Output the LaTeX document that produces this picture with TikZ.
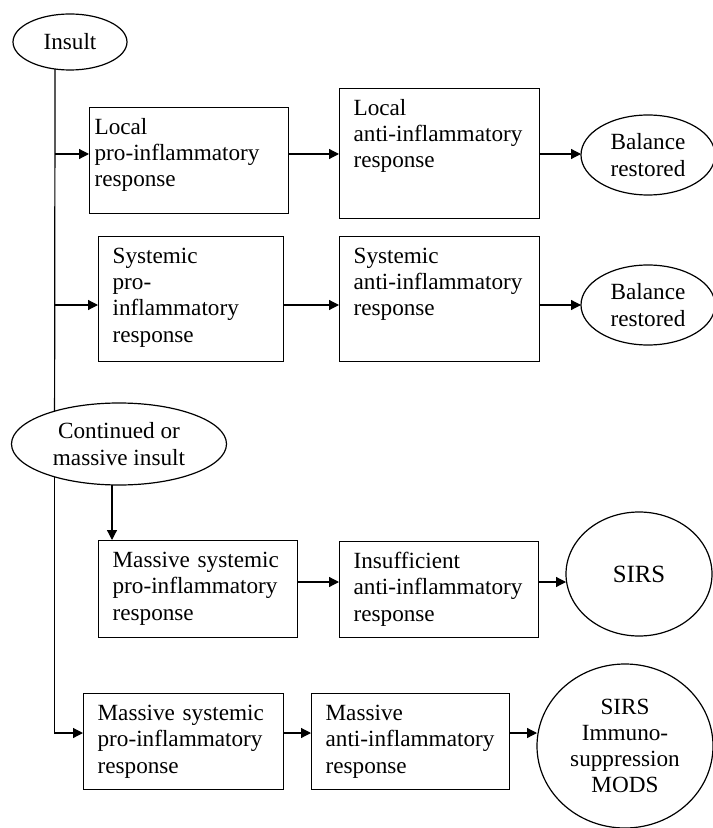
\documentclass[tikz,border=0pt]{standalone}
\usepackage{fontspec}
\setmainfont{Liberation Serif}
\usetikzlibrary{shapes.geometric,arrows.meta}
\newcommand{\diagfont}{\fontsize{11.6}{13.1}\selectfont}

\begin{document}
\begin{tikzpicture}[
    x=0.5pt, y=-0.5pt,
    font=\diagfont,
    line width=0.6pt,
    resp/.style={draw, anchor=north west, align=left, inner xsep=7pt, inner ysep=5.5pt, text height=8pt},
    event/.style={draw, ellipse, align=center, inner sep=0pt, outer sep=0pt},
    arrow/.style={-{Triangle[length=5pt, width=5pt]}}
]
\useasboundingbox (0,0) rectangle (712,828);

% Trunk and arrow rows
\coordinate (trunk) at (55,0);
\coordinate (r1) at (0,154);
\coordinate (r2) at (0,305);
\coordinate (r3) at (0,582);
\coordinate (r4) at (0,733);

% Insult
\node[event, minimum width=57pt, minimum height=28pt] (ins) at (70,42) {Insult};

% Local response
\node[resp, text width=94.5pt, inner xsep=2.5pt, text depth=34pt] (lpro) at (89,107) {Local\\pro-inflammatory\\response};
\node[resp, text width=86pt, text depth=46pt] (lanti) at (339,88) {Local\\anti-inflammatory\\response};
\node[event, minimum width=67pt, minimum height=40pt] (bal1) at (648,155) {Balance\\restored};

% Systemic response
\node[resp, text width=78.5pt, text depth=43.5pt] (spro) at (98,236) {Systemic\\pro-\\inflammatory\\response};
\node[resp, text width=86pt, text depth=43.5pt] (santi) at (339,236) {Systemic\\anti-inflammatory\\response};
\node[event, minimum width=67pt, minimum height=40pt] (bal2) at (648,305) {Balance\\restored};

% Continued insult
\node[event, minimum width=107.5pt, minimum height=41pt] (cont) at (119,444) {Continued or\\massive insult};

% SIRS
\node[resp, text width=85.5pt, text depth=29.5pt] (mpro1) at (98,540) {Massive systemic\\pro-inflammatory\\response};
\node[resp, text width=85.5pt, text depth=29pt] (insuf) at (339,541) {Insufficient\\anti-inflammatory\\response};
\node[event, minimum width=73pt, minimum height=62pt, font=\fontsize{12.4}{14}\selectfont] (sirs) at (639,574) {SIRS};

% MODS
\node[resp, text width=86pt, text depth=29pt] (mpro2) at (83,693) {Massive systemic\\pro-inflammatory\\response};
\node[resp, text width=85pt, text depth=29pt] (manti) at (311,693) {Massive\\anti-inflammatory\\response};
\node[event, minimum width=88pt, minimum height=82pt] (mods) at (625,746) {SIRS\\Immuno-\\suppression\\MODS};

% Arrows
\draw (ins.241) -- (cont.153);
\draw[arrow] (trunk |- r1) -- (lpro.west |- r1);
\draw[arrow] (lpro.east |- r1) -- (lanti.west |- r1);
\draw[arrow] (lanti.east |- r1) -- (bal1.west |- r1);
\draw[arrow] (trunk |- r2) -- (spro.west |- r2);
\draw[arrow] (spro.east |- r2) -- (santi.west |- r2);
\draw[arrow] (santi.east |- r2) -- (bal2.west);
\draw[arrow] ([xshift=-3.5pt]cont.south) -- ([xshift=-3.5pt]cont.south |- mpro1.north);
\draw[arrow] (mpro1.east |- r3) -- (insuf.west |- r3);
\draw[arrow] (insuf.east |- r3) -- (sirs.west |- r3);
\draw[arrow] (cont.207) |- (mpro2.west |- r4);
\draw[arrow] (mpro2.east |- r4) -- (manti.west |- r4);
\draw[arrow] (manti.east |- r4) -- (mods.west |- r4);

\end{tikzpicture}
\end{document}
